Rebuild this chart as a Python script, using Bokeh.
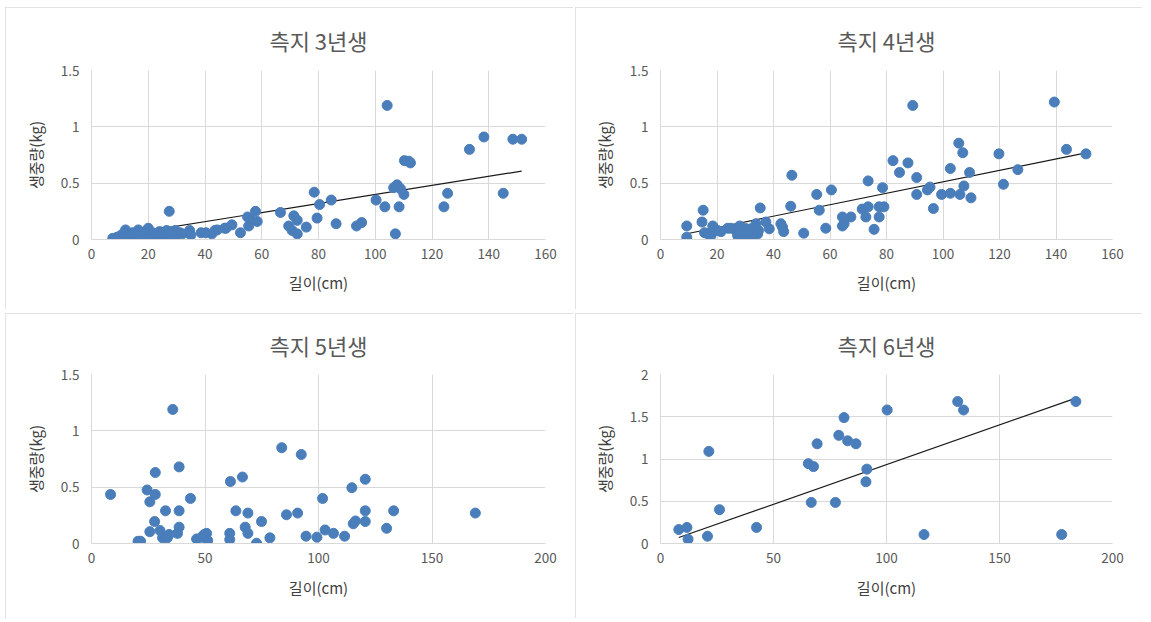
from bokeh.plotting import figure
from bokeh.layouts import column, row
from bokeh.models import Range1d, FixedTicker
from bokeh.embed import file_html
from bokeh.resources import INLINE

# ---------------- data ----------------
titles = ["측지 3년생", "측지 4년생", "측지 5년생", "측지 6년생"]
x_label = "길이(cm)"
y_label = "생중량(kg)"

x3 = [7.5, 9, 10, 10.5, 11, 11.5, 12, 12.5, 13, 13.5, 14, 14.5, 15, 15.5, 16, 16.5, 17, 17.5, 18, 18.5,
      19, 19.5, 20, 20.5, 21, 21.5, 22, 22.5, 23, 23.5, 24, 24.5, 25, 25.5, 26, 26.5, 27, 28, 28.5, 29.5,
      30, 31.2, 32, 27.4, 34.6, 35, 38.6, 40.3, 42.4, 43.5, 44.3, 46.9, 49.5, 47.4, 52.5, 55.4, 56, 57.8,
      58.4, 55, 66.6, 69.5, 70.7, 71.3, 72.5, 72.5, 75.7, 78.5, 79.5, 80.4, 84.5, 86.2, 93.4, 95.2, 100.3,
      103.4, 104.2, 106.5, 107.1, 107.7, 108.4, 108.9, 110.1, 110.3, 111.8, 112.4, 124.2, 125.5, 133.2,
      138.3, 145.1, 148.5, 151.6]
y3 = [0.01, 0.02, 0.01, 0.04, 0.0, 0.03, 0.085, 0.02, 0.05, 0.01, 0.03, 0.06, 0.02, 0.04, 0.01, 0.085, 0.03, 0.05, 0.0, 0.02,
      0.07, 0.04, 0.10, 0.01, 0.03, 0.06, 0.02, 0.05, 0.0, 0.03, 0.07, 0.02, 0.04, 0.06, 0.03, 0.08, 0.05, 0.02, 0.07, 0.08,
      0.04, 0.06, 0.05, 0.25, 0.08, 0.04, 0.06, 0.06, 0.05, 0.08, 0.085, 0.10, 0.13, 0.10, 0.06, 0.12, 0.18, 0.25,
      0.16, 0.20, 0.24, 0.12, 0.08, 0.21, 0.17, 0.05, 0.11, 0.42, 0.19, 0.31, 0.35, 0.14, 0.12, 0.15, 0.35,
      0.29, 1.19, 0.46, 0.05, 0.485, 0.29, 0.45, 0.40, 0.70, 0.695, 0.68, 0.29, 0.41, 0.80,
      0.91, 0.41, 0.89, 0.89]

x4 = [9.3, 9.3, 15.1, 14.7, 15.6, 16.8, 18.5, 17.9, 20.2, 21.4, 23.8, 24.9, 26.7, 27.3, 28, 29.2, 29.6, 30.2,
      30.8, 32, 32.6, 33.8, 34.4, 35.3, 34.7, 37.3, 38.5, 42.6, 43.2, 43.6, 46.1, 46.5, 50.7, 55.3, 56.2, 58.5,
      60.5, 64.4, 64.4, 65, 67.4, 71.4, 72.7, 73.5, 73.5, 75.6, 77.4, 77.4, 78.6, 79.1, 82.3, 84.6, 87.6, 89.3,
      90.7, 90.7, 94.5, 95.4, 96.6, 99.5, 102.6, 102.6, 105.6, 106, 107, 107.4, 109.4, 109.9, 119.8, 121.4,
      126.5, 139.4, 143.7, 150.6]
y4 = [0.12, 0.02, 0.26, 0.155, 0.06, 0.05, 0.12, 0.035, 0.08, 0.07, 0.10, 0.10, 0.08, 0.035, 0.12, 0.035, 0.08, 0.097,
      0.05, 0.095, 0.006, 0.14, 0.05, 0.28, 0.08, 0.155, 0.095, 0.14, 0.11, 0.07, 0.295, 0.57, 0.056, 0.40, 0.26, 0.10,
      0.44, 0.20, 0.12, 0.14, 0.20, 0.27, 0.20, 0.29, 0.52, 0.09, 0.29, 0.20, 0.46, 0.29, 0.70, 0.595, 0.68, 1.19,
      0.55, 0.40, 0.44, 0.465, 0.275, 0.40, 0.41, 0.63, 0.855, 0.40, 0.77, 0.475, 0.595, 0.37, 0.76, 0.49,
      0.62, 1.22, 0.80, 0.76]

x5 = [8.4, 20.5, 21.6, 24.5, 25.7, 25.7, 27.8, 28.1, 28.1, 30.2, 31.3, 32.6, 33.4, 34.2, 35.8, 37.9, 38.6, 38.6,
      38.6, 43.6, 46.3, 48.4, 49.6, 50.7, 51.2, 60.9, 60.9, 61.2, 63.6, 66.5, 67.7, 68.9, 68.9, 72.7, 74.9, 78.6,
      83.8, 85.9, 90.8, 92.4, 94.5, 99.3, 101.8, 102.9, 106.6, 111.5, 114.7, 115.3, 116.3, 120.6, 120.6, 120.6,
      130, 133.1, 169.1]
y5 = [0.435, 0.02, 0.02, 0.475, 0.37, 0.105, 0.195, 0.63, 0.435, 0.115, 0.05, 0.29, 0.05, 0.08, 1.19, 0.09, 0.68, 0.29,
      0.145, 0.40, 0.04, 0.055, 0.08, 0.09, 0.027, 0.09, 0.035, 0.55, 0.29, 0.59, 0.145, 0.27, 0.09, 0.003, 0.195, 0.05,
      0.85, 0.255, 0.27, 0.79, 0.065, 0.056, 0.40, 0.12, 0.09, 0.065, 0.495, 0.175, 0.2, 0.57, 0.29, 0.195,
      0.135, 0.29, 0.27]

x6 = [8.1, 11.7, 12.2, 20.8, 21.4, 26.1, 42.5, 65.4, 67.7, 66.7, 69.3, 77.4, 78.9, 81.2, 82.8, 86.5, 90.9, 91.3,
      100.3, 116.6, 131.5, 134.1, 177.5, 183.8]
y6 = [0.165, 0.19, 0.05, 0.086, 1.09, 0.40, 0.19, 0.945, 0.91, 0.486, 1.18, 0.486, 1.28, 1.49, 1.215, 1.18, 0.73, 0.88,
      1.58, 0.106, 1.68, 1.58, 0.106, 1.68]

# linear trend lines (slope, intercept); None = no trend line
trend3 = (0.00402, -0.0023)
trend4 = (0.00508, 0.0038)
trend5 = None
trend6 = (0.00939, -0.005)

x_max = [160, 160, 200, 200]
x_step = [20, 20, 50, 50]
y_max = [1.5, 1.5, 1.5, 2.0]

FONT = "Noto Sans CJK KR"
GREY = "#595959"
GRID = "#d9d9d9"
DOT = "#4a7ebb"


def fmt(v):
    return str(int(v)) if float(v).is_integer() else str(v)


def panel(title, xs, ys, trend, xmax, xstep, ymax, size, borders, margin, title_gap, xlab_gap):
    w, h = size
    left, right, top, bottom = borders
    p = figure(width=w, height=h, output_backend="svg", toolbar_location=None,
               x_range=Range1d(0, xmax), y_range=Range1d(0, ymax),
               min_border_left=left, min_border_right=right,
               min_border_top=top, min_border_bottom=bottom,
               background_fill_color="white", border_fill_color="white",
               margin=margin)
    p.styles = {"outline": "1px solid #d9d9d9", "outline-offset": "-1px"}
    p.outline_line_color = None
    p.title.text = title
    p.title.align = "center"
    p.title.vertical_align = "middle"
    p.title.text_font = FONT
    p.title.text_font_size = "22px"
    p.title.text_font_style = "normal"
    p.title.text_color = GREY
    p.title.standoff = title_gap

    xt = list(range(0, xmax + 1, xstep))
    yt = [i * 0.5 for i in range(int(ymax / 0.5) + 1)]
    p.xaxis.ticker = FixedTicker(ticks=xt)
    p.yaxis.ticker = FixedTicker(ticks=yt)
    p.xaxis.major_label_overrides = {t: fmt(t) for t in xt}
    p.yaxis.major_label_overrides = {t: fmt(t) for t in yt}
    for ax in (p.xaxis, p.yaxis):
        ax.axis_line_color = GRID
        ax.major_tick_line_color = None
        ax.minor_tick_line_color = None
        ax.major_tick_out = 0
        ax.major_tick_in = 0
        ax.major_label_text_font = FONT
        ax.major_label_text_font_size = "13.5px"
        ax.major_label_text_color = GREY
        ax.axis_label_text_font = FONT
        ax.axis_label_text_font_size = "15px"
        ax.axis_label_text_font_style = "normal"
        ax.axis_label_text_color = "#404040"
    p.xaxis.axis_label = x_label
    p.yaxis.axis_label = y_label
    p.xaxis.major_label_standoff = 9
    p.yaxis.major_label_standoff = 12
    p.xaxis.axis_label_standoff = xlab_gap
    p.yaxis.axis_label_standoff = 12
    p.xgrid.grid_line_color = GRID
    p.ygrid.grid_line_color = GRID
    p.xgrid.ticker = FixedTicker(ticks=xt)
    p.ygrid.ticker = FixedTicker(ticks=yt)

    if trend is not None:
        a, b = trend
        x0, x1 = min(xs), max(xs)
        p.line([x0, x1], [a * x0 + b, a * x1 + b], line_color="#1a1a1a", line_width=1.2)
    p.scatter(xs, ys, size=10, fill_color=DOT, line_color=DOT)
    return p


p1 = panel(titles[0], x3, y3, trend3, x_max[0], x_step[0], y_max[0], (568, 302), (86, 28, 63, 70), (7, 1, 1, 5), 28, 10)
p2 = panel(titles[1], x4, y4, trend4, x_max[1], x_step[1], y_max[1], (567, 302), (85, 30, 63, 70), (7, 1, 1, 1), 28, 10)
p3 = panel(titles[2], x5, y5, trend5, x_max[2], x_step[2], y_max[2], (568, 305), (86, 28, 61, 75), (3, 1, 1, 5), 26, 11)
p4 = panel(titles[3], x6, y6, trend6, x_max[3], x_step[3], y_max[3], (567, 305), (85, 30, 60, 75), (3, 1, 1, 1), 25, 11)

layout = column(row(p1, p2), row(p3, p4))
open("out.html", "w").write(file_html(layout, INLINE))
